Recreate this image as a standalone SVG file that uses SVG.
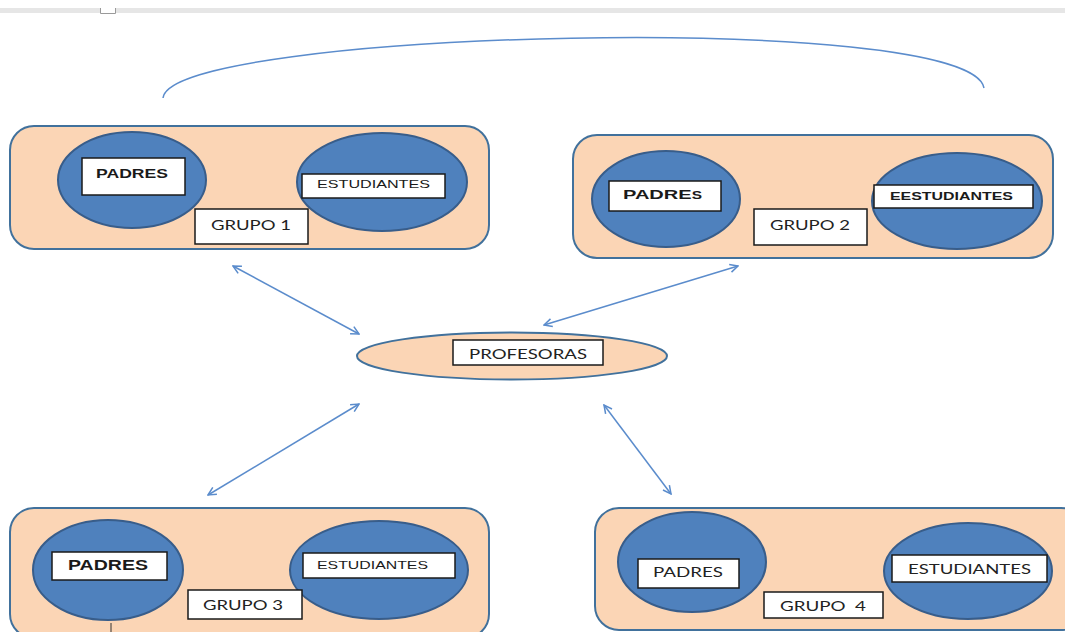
<svg xmlns="http://www.w3.org/2000/svg" width="1065" height="632" viewBox="0 0 1065 632">
<style>
.grp{fill:#fbd5b5;stroke:#41719c;stroke-width:2}
.cir{fill:#4f81bd;stroke:#385d8a;stroke-width:2}
.box{fill:#ffffff;stroke:#1a1a1a;stroke-width:1.5}
.t{font-family:"Liberation Sans",Arial,sans-serif;fill:#1a1a1a}
.c{font-family:Lato,"Open Sans",sans-serif;fill:#222222;white-space:pre}
.b{font-weight:bold}
.conn{fill:none;stroke:#5b8ccc;stroke-width:1.5}
</style>
<defs>
<marker id="ah" viewBox="0 0 10 10" refX="9" refY="5" markerWidth="10" markerHeight="10" markerUnits="userSpaceOnUse" orient="auto-start-reverse">
<path d="M1,1 L9,5 L1,9" fill="none" stroke="#5b8ccc" stroke-width="1.5"/>
</marker>
</defs>
<rect width="1065" height="632" fill="#ffffff"/>
<rect x="0" y="8" width="1065" height="5" fill="#e6e6e6"/>
<path d="M100.5,8 V13.5 H115.5 V8" fill="#ffffff" stroke="#9a9a9a" stroke-width="1"/>

<g id="group1">
<rect class="grp" x="10" y="126" width="479" height="123" rx="24"/>
<ellipse class="cir" cx="132" cy="180" rx="74" ry="48"/>
<rect class="box" x="82" y="158" width="103" height="37"/>
<text class="t b" x="96" y="178" font-size="13" textLength="72" lengthAdjust="spacingAndGlyphs">PADRES</text>
<ellipse class="cir" cx="382" cy="182" rx="85" ry="49"/>
<rect class="box" x="302" y="174" width="143" height="24"/>
<text class="t" x="317" y="188" font-size="11" textLength="113" lengthAdjust="spacingAndGlyphs">ESTUDIANTES</text>
<rect class="box" x="195" y="209" width="113" height="35"/>
<text class="c" x="211" y="230" font-size="14" textLength="80" lengthAdjust="spacingAndGlyphs">GRUPO 1</text>
</g>

<g id="group2">
<rect class="grp" x="573" y="135" width="480" height="123" rx="24"/>
<ellipse class="cir" cx="666" cy="199" rx="74" ry="48"/>
<rect class="box" x="609" y="181" width="112" height="30"/>
<text class="t b" x="623" y="199" font-size="13" textLength="79" lengthAdjust="spacingAndGlyphs">PADRE<tspan font-size="10">S</tspan></text>
<ellipse class="cir" cx="957" cy="201" rx="85" ry="48"/>
<rect class="box" x="874" y="185" width="159" height="23"/>
<text class="t b" x="890" y="200" font-size="10" textLength="123" lengthAdjust="spacingAndGlyphs">EESTUDIANTES</text>
<rect class="box" x="754" y="209" width="113" height="36"/>
<text class="c" x="770" y="230" font-size="14" textLength="80" lengthAdjust="spacingAndGlyphs">GRUPO 2</text>
</g>

<g id="profesoras">
<ellipse class="grp" cx="512" cy="356" rx="155" ry="23.5"/>
<rect class="box" x="453" y="340" width="150" height="25"/>
<text class="c" x="469" y="359" font-size="13" textLength="118" lengthAdjust="spacingAndGlyphs">PROFESORAS</text>
</g>

<g id="group3">
<rect class="grp" x="10" y="508" width="479" height="130" rx="24"/>
<ellipse class="cir" cx="108" cy="570" rx="75" ry="50"/>
<rect class="box" x="52" y="552" width="115" height="28"/>
<text class="t b" x="68" y="570" font-size="14" textLength="80" lengthAdjust="spacingAndGlyphs">PADRES</text>
<ellipse class="cir" cx="379" cy="570" rx="89" ry="49"/>
<rect class="box" x="303" y="553" width="152" height="25"/>
<text class="t" x="317" y="569" font-size="11" textLength="111" lengthAdjust="spacingAndGlyphs">ESTUDIANTES</text>
<rect class="box" x="188" y="590" width="114" height="29"/>
<text class="c" x="203" y="610" font-size="13" textLength="80" lengthAdjust="spacingAndGlyphs">GRUPO 3</text>
<line x1="111" y1="623" x2="111" y2="632" stroke="#333333" stroke-width="1"/>
</g>

<g id="group4">
<rect class="grp" x="595" y="508" width="490" height="122" rx="24"/>
<ellipse class="cir" cx="692" cy="562" rx="74" ry="50"/>
<rect class="box" x="638" y="559" width="101" height="29"/>
<text class="c" x="653" y="577" font-size="13" textLength="70" lengthAdjust="spacingAndGlyphs">PADRES</text>
<ellipse class="cir" cx="968" cy="571" rx="84" ry="48"/>
<rect class="box" x="892" y="555" width="155" height="27"/>
<text class="c" x="908" y="574" font-size="13" textLength="123" lengthAdjust="spacingAndGlyphs">ESTUDIANTES</text>
<rect class="box" x="764" y="592" width="119" height="26"/>
<text class="c" x="780" y="611" font-size="13" textLength="86" lengthAdjust="spacingAndGlyphs">GRUPO  4</text>
</g>

<g id="connectors">
<path class="conn" d="M163,98 C170,30 970,10 984,88"/>
<line class="conn" x1="233" y1="266" x2="359" y2="334" marker-start="url(#ah)" marker-end="url(#ah)"/>
<line class="conn" x1="738" y1="266" x2="544" y2="325" marker-start="url(#ah)" marker-end="url(#ah)"/>
<line class="conn" x1="359" y1="404" x2="208" y2="495" marker-start="url(#ah)" marker-end="url(#ah)"/>
<line class="conn" x1="604" y1="405" x2="671" y2="494" marker-start="url(#ah)" marker-end="url(#ah)"/>
</g>
</svg>
